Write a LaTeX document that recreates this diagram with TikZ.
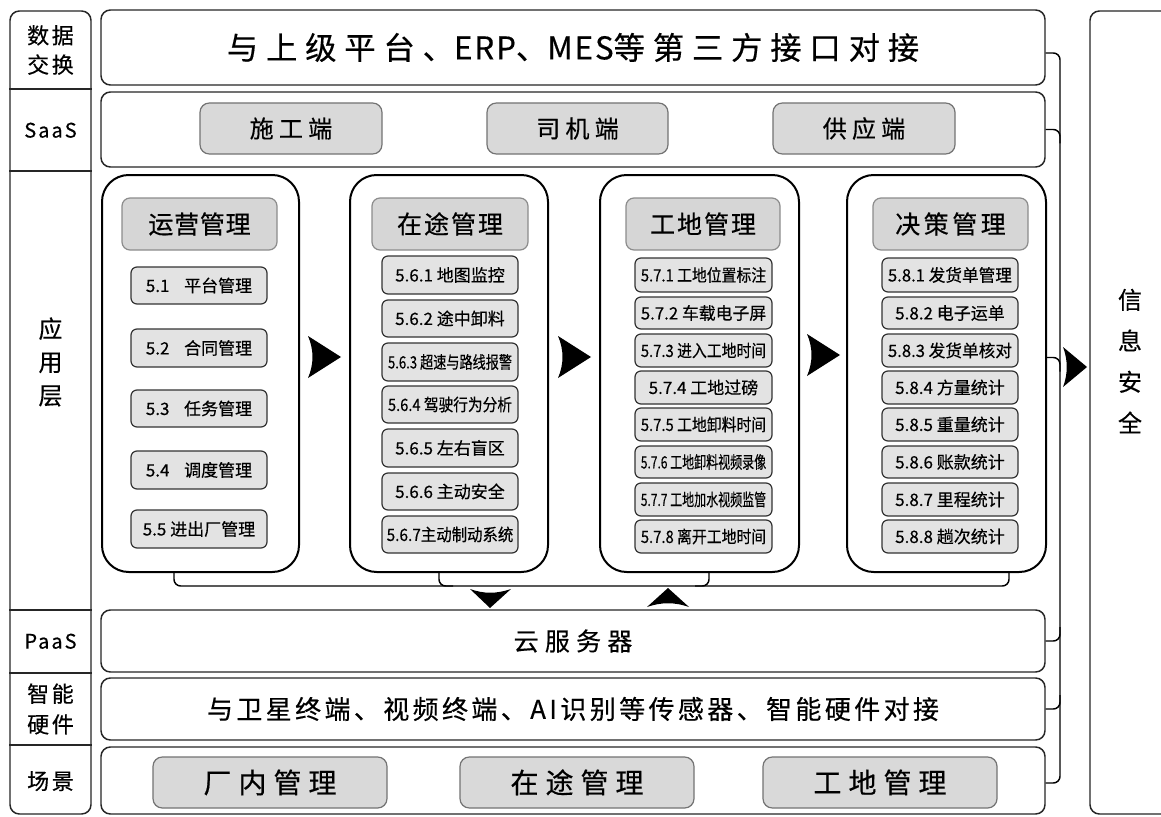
\documentclass[tikz,border=0pt]{standalone}
\usepackage{fontspec}
\setmainfont{Noto Sans CJK SC}[FakeBold=0.4]
\usetikzlibrary{fit,calc}
\newsavebox\itbox
\newcommand\fitto[2]{\sbox\itbox{#2}\ifdim\wd\itbox>#1\relax\resizebox{#1}{\height}{\usebox\itbox}\else\usebox\itbox\fi}
\newcommand\ls[1]{\addfontfeature{LetterSpace=#1}}
% box node with a centred text node on top of it
\newcommand\bx[5]{\node[#1, fit={#2}] (#3) {}; \node[#4] (#3t) at (#3) {#5};}
\tikzset{
  txt/.style n args={2}{inner sep=0pt, font=\fontsize{#1pt}{#1pt}\selectfont\ls{#2}, text height=#1*0.88pt, text depth=#1*0.12pt},
  rowbox/.style={draw=black!85, line width=1.1pt, rounded corners=7pt, inner sep=0pt},
  appbox/.style={draw=black, line width=1.5pt, rounded corners=20pt, inner sep=0pt},
  headbox/.style={fill=black!16, draw=black!45, line width=0.9pt, rounded corners=6pt, inner sep=0pt},
  headtxt/.style={txt={18.75}{#1}},
  headtxt/.default=8,
  itembox/.style={fill=black!11, draw=black!80, line width=0.9pt, rounded corners=4.5pt, inner sep=0pt},
  itemtxt/.style={txt={12.75}{0}},
  graybox/.style={fill=black!15, draw=black!55, line width=0.9pt, rounded corners=7pt, inner sep=0pt},
  conn/.style={draw=black, line width=1.1pt, rounded corners=5pt},
  lab/.style={align=center, inner sep=0pt},
  rtri/.pic={\fill (0,-21) .. controls (6,-7) and (6,7) .. (0,21) -- (33,0) -- cycle;},
}
\begin{document}
\begin{tikzpicture}[x=0.75pt,y=-0.75pt]
\useasboundingbox (0,0) rectangle (1161,817);
\clip (0,0) rectangle (1161,817);
\fill[white] (0,0) rectangle (1161,817);

% left column
\node[rowbox, fit={(10,11)(91,814)}] (lc) {};
\draw[draw=black!85, line width=1.1pt] (lc.west |- 0,89) -- (lc.east |- 0,89);
\draw[draw=black!85, line width=1.1pt] (lc.west |- 0,171) -- (lc.east |- 0,171);
\draw[draw=black!85, line width=1.1pt] (lc.west |- 0,610) -- (lc.east |- 0,610);
\draw[draw=black!85, line width=1.1pt] (lc.west |- 0,673) -- (lc.east |- 0,673);
\draw[draw=black!85, line width=1.1pt] (lc.west |- 0,745) -- (lc.east |- 0,745);
\node[lab, font=\fontsize{16.5pt}{22pt}\selectfont\ls{12}] (l1) at (50.5,50) {数据\\交换};
\node[txt={15}{10}] (l2) at (50.5,130) {SaaS};
\node[lab, font=\fontsize{18pt}{25pt}\selectfont] (l3) at (50.5,362) {应\\用\\层};
\node[txt={15}{10}] (l4) at (50.5,641) {PaaS};
\node[lab, font=\fontsize{16.5pt}{23pt}\selectfont\ls{12}] (l5) at (50.5,709) {智能\\硬件};
\node[txt={16.5}{12}] (l6) at (50.5,781) {场景};

% rows
\bx{rowbox}{(101,10)(1045,85)}{r1}{txt={23.5}{25}}{与上级平台、{\ls{6}ERP}、{\ls{6}MES}等第三方接口对接}
\node[rowbox, fit={(101,92)(1045,167)}] (r2) {};
\bx{graybox}{(200,103)(382,154)}{s1}{txt={18}{22}}{施工端}
\bx{graybox}{(487,103)(668,154)}{s2}{txt={18}{22}}{司机端}
\bx{graybox}{(773,103)(955,154)}{s3}{txt={18}{22}}{供应端}
\bx{rowbox}{(101,610)(1045,672)}{r4}{txt={18.75}{25}}{云服务器}
\bx{rowbox}{(101,678)(1045,740)}{r5}{txt={19.5}{13}}{与卫星终端、视频终端、AI识别等传感器、智能硬件对接}
\node[rowbox, fit={(101,747)(1045,814)}] (r6) {};
\bx{graybox}{(153,757)(387,808)}{c1}{txt={21}{25}}{厂内管理}
\bx{graybox}{(460,757)(694,808)}{c2}{txt={21}{25}}{在途管理}
\bx{graybox}{(763,757)(997,808)}{c3}{txt={21}{25}}{工地管理}

% security box
\node[rowbox, fit={(1090,11)(1190,814)}] (sec) {};
\node[lab, font=\fontsize{18pt}{30.75pt}\selectfont] (sect) at (1130,361) {信\\息\\安\\全};

% application boxes
\node[appbox, fit={(102,175)(299,572)}] (app1) {};
\node[appbox, fit={(350,175)(548,572)}] (app2) {};
\node[appbox, fit={(600,175)(799,572)}] (app3) {};
\node[appbox, fit={(847,175)(1046,572)}] (app4) {};

\bx{headbox}{(122,198)(277,250)}{h1}{headtxt=3}{运营管理}
\bx{headbox}{(372,198)(528,250)}{h2}{headtxt}{在途管理}
\bx{headbox}{(626,198)(780,250)}{h3}{headtxt}{工地管理}
\bx{headbox}{(873,198)(1028,250)}{h4}{headtxt=14}{决策管理}

% items box 1
\bx{itembox}{(131,267)(267,304)}{a1}{itemtxt}{\fitto{90pt}{5.1\hspace{11pt}平台管理}}
\bx{itembox}{(131,329)(267,367)}{a2}{itemtxt}{\fitto{90pt}{5.2\hspace{11pt}合同管理}}
\bx{itembox}{(131,390)(267,427)}{a3}{itemtxt}{\fitto{90pt}{5.3\hspace{11pt}任务管理}}
\bx{itembox}{(131,451)(267,489)}{a4}{itemtxt}{\fitto{90pt}{5.4\hspace{11pt}调度管理}}
\bx{itembox}{(131,510)(267,548)}{a5}{itemtxt}{\fitto{90pt}{5.5 进出厂管理}}

% items box 2
\bx{itembox}{(382,256)(518,294)}{b1}{itemtxt}{\fitto{93pt}{5.6.1 地图监控}}
\bx{itembox}{(382,300)(518,337)}{b2}{itemtxt}{\fitto{93pt}{5.6.2 途中卸料}}
\bx{itembox}{(382,343)(518,381)}{b3}{itemtxt}{\fitto{93pt}{5.6.3 超速与路线报警}}
\bx{itembox}{(382,386)(518,423)}{b4}{itemtxt}{\fitto{93pt}{5.6.4 驾驶行为分析}}
\bx{itembox}{(382,429)(518,467)}{b5}{itemtxt}{\fitto{93pt}{5.6.5 左右盲区}}
\bx{itembox}{(382,473)(518,510)}{b6}{itemtxt}{\fitto{93pt}{5.6.6 主动安全}}
\bx{itembox}{(382,516)(518,553)}{b7}{itemtxt}{\fitto{95pt}{5.6.7主动制动系统}}

% items box 3
\bx{itembox}{(635,258)(772,292)}{g1}{itemtxt}{\fitto{94pt}{5.7.1 工地位置标注}}
\bx{itembox}{(635,297)(772,329)}{g2}{itemtxt}{\fitto{94pt}{5.7.2 车载电子屏}}
\bx{itembox}{(635,334)(772,367)}{g3}{itemtxt}{\fitto{94pt}{5.7.3 进入工地时间}}
\bx{itembox}{(635,371)(772,404)}{g4}{itemtxt}{\fitto{94pt}{5.7.4 工地过磅}}
\bx{itembox}{(635,408)(772,441)}{g5}{itemtxt}{\fitto{94pt}{5.7.5 工地卸料时间}}
\bx{itembox}{(635,446)(772,478)}{g6}{itemtxt}{\fitto{94pt}{5.7.6 工地卸料视频录像}}
\bx{itembox}{(635,483)(772,516)}{g7}{itemtxt}{\fitto{94pt}{5.7.7 工地加水视频监管}}
\bx{itembox}{(635,520)(772,553)}{g8}{itemtxt}{\fitto{94pt}{5.7.8 离开工地时间}}

% items box 4
\bx{itembox}{(882,258)(1018,292)}{d1}{itemtxt}{\fitto{93pt}{5.8.1 发货单管理}}
\bx{itembox}{(882,297)(1018,329)}{d2}{itemtxt}{\fitto{93pt}{5.8.2 电子运单}}
\bx{itembox}{(882,334)(1018,367)}{d3}{itemtxt}{\fitto{93pt}{5.8.3 发货单核对}}
\bx{itembox}{(882,371)(1018,404)}{d4}{itemtxt}{\fitto{93pt}{5.8.4 方量统计}}
\bx{itembox}{(882,408)(1018,441)}{d5}{itemtxt}{\fitto{93pt}{5.8.5 重量统计}}
\bx{itembox}{(882,446)(1018,478)}{d6}{itemtxt}{\fitto{93pt}{5.8.6 账款统计}}
\bx{itembox}{(882,483)(1018,516)}{d7}{itemtxt}{\fitto{93pt}{5.8.7 里程统计}}
\bx{itembox}{(882,520)(1018,553)}{d8}{itemtxt}{\fitto{93pt}{5.8.8 趟次统计}}

% flow arrows between app boxes
\pic at (308,357) {rtri};
\pic at (558,357) {rtri};
\pic at (807,355) {rtri};

% bottom bus under app boxes
\coordinate (u1) at ($(app1.south west)+(73,13)$);
\coordinate (u4) at ($(app4.south west)+(163,13)$);
\draw[conn] (u1 |- app1.south) -- (u1) -- (u4) -- (u4 |- app4.south);
\draw[conn] ($(app2.south west)+(90,0)$) |- ++(14,13);
\draw[conn] ($(app3.south west)+(110,0)$) |- ++(-14,13);
\fill (470,589) .. controls (484,594) and (496,594) .. (511,589) -- (490,608) -- cycle;
\fill (647,607) .. controls (661,602) and (675,602) .. (689,607) -- (668,588) -- cycle;

% right bus
\coordinate (busT) at (1060,53);
\coordinate (busB) at (1060,783);
\draw[conn] (r1.east |- busT) -- (busT) -- (busB) -- (r6.east |- busB);
\draw[conn] (r2.east) -| ($(r2.east -| busT)+(0,14)$);
\draw[conn] ($(app4.east)+(0,-16)$) -| ($(app4.east -| busT)+(0,-2)$);
\draw[conn] (r4.east) -| ($(r4.east -| busT)+(0,-14)$);
\draw[conn] (r5.east) -| ($(r5.east -| busT)+(0,-14)$);
\fill (1063,347) .. controls (1068,360) and (1068,374) .. (1063,387) -- (1087,367) -- cycle;
\end{tikzpicture}
\end{document}
